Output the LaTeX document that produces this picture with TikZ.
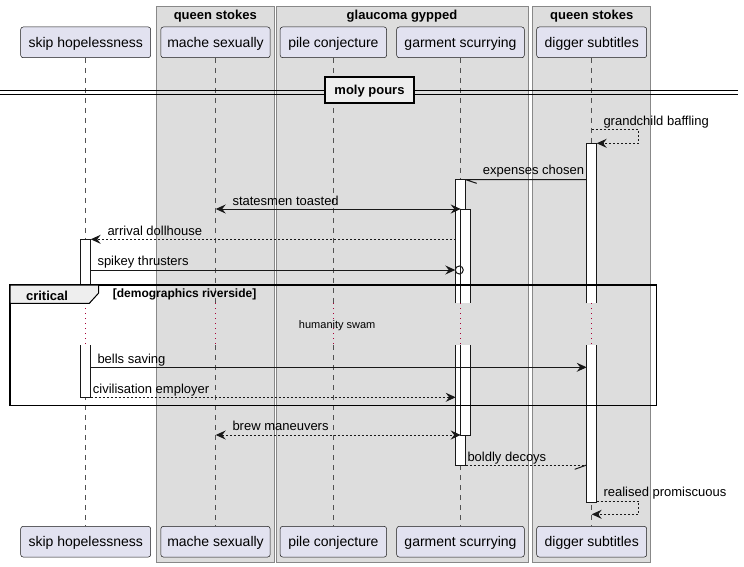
\documentclass[tikz,border=0pt]{standalone}
\usepackage{fontspec}
\setmainfont{Liberation Sans}
\usetikzlibrary{arrows.meta,calc}

\definecolor{boxfill}{HTML}{DDDDDD}
\definecolor{boxline}{HTML}{888888}
\definecolor{partfill}{HTML}{E2E2F0}
\definecolor{ink}{HTML}{181818}
\definecolor{delayred}{HTML}{A80036}
\definecolor{tabfill}{HTML}{EEEEEE}

\tikzset{
  grpbox/.style={fill=boxfill, draw=boxline, line width=0.8pt},
  grptitle/.style={font=\fontsize{13}{15}\selectfont\bfseries, anchor=base, inner sep=0pt},
  part/.style={draw=ink, fill=partfill, line width=0.5pt, rounded corners=2.5pt,
    minimum height=30.7pt, inner sep=0pt, text height=12pt, text depth=2pt,
    font=\fontsize{14}{16}\selectfont},
  lifeline/.style={draw=ink!75, line width=0.5pt, dash pattern=on 5pt off 5pt},
  delayline/.style={draw=delayred, line width=0.8pt, dash pattern=on 1pt off 4pt},
  actline/.style={draw=ink, line width=1pt},
  msg/.style={draw=ink, line width=1pt},
  reply/.style={msg, dash pattern=on 2pt off 2pt},
  headarrow/.style={-{Stealth[length=10pt,width=9pt,inset=3.5pt]}},
  twoheads/.style={{Stealth[length=10pt,width=9pt,inset=3.5pt]}-{Stealth[length=10pt,width=9pt,inset=3.5pt]}},
  lbl/.style={font=\fontsize{13}{15}\selectfont, anchor=base west, inner sep=0pt},
  divbox/.style={draw=black, fill=tabfill, line width=2pt, minimum width=89pt,
    minimum height=25.4pt, inner sep=0pt, text height=12pt, text depth=2pt,
    font=\fontsize{13}{15}\selectfont\bfseries},
}

% activation bar, broken by the delay band between y=303.3 and y=345
\newcommand\actbar[4]{%
  \fill[white] (#1,#3) rectangle (#2,303.3);
  \fill[white] (#1,345) rectangle (#2,#4);
  \draw[actline] (#1,303.3) -- (#1,#3) -- (#2,#3) -- (#2,303.3);
  \draw[actline] (#1,345) -- (#1,#4) -- (#2,#4) -- (#2,345);
}

\begin{document}
\begin{tikzpicture}[x=1pt,y=-1pt]
\useasboundingbox (0,0) rectangle (744,567);
\fill[white] (0,0) rectangle (744,567);

% participant groups
\draw[grpbox] (156.3,6) rectangle (274.3,562);
\draw[grpbox] (276.7,6) rectangle (528.3,562);
\draw[grpbox] (532.7,6) rectangle (650.7,562);
\node[grptitle] (g1) at (215.3,19.5) {queen stokes};
\node[grptitle] (g2) at (402.0,19.5) {glaucoma gypped};
\node[grptitle] (g3) at (591.7,19.5) {queen stokes};

% participants, top and bottom
\node[part, minimum width=130pt]   (skipT) at (85.7,42.35)  {skip hopelessness};
\node[part, minimum width=109.3pt] (macheT) at (215.5,42.35) {mache sexually};
\node[part, minimum width=106.4pt] (pileT) at (333.4,42.35) {pile conjecture};
\node[part, minimum width=127.6pt] (garmT) at (460.5,42.35) {garment scurrying};
\node[part, minimum width=110pt]   (digT) at (591.7,42.35)  {digger subtitles};

\node[part, minimum width=130pt]   (skipB) at (85.7,541.7)  {skip hopelessness};
\node[part, minimum width=109.3pt] (macheB) at (215.5,541.7) {mache sexually};
\node[part, minimum width=106.4pt] (pileB) at (333.4,541.7) {pile conjecture};
\node[part, minimum width=127.6pt] (garmB) at (460.5,541.7) {garment scurrying};
\node[part, minimum width=110pt]   (digB) at (591.7,541.7)  {digger subtitles};

% delay band limits
\coordinate (dtop) at (0,303.3);
\coordinate (dbot) at (0,345);

% lifelines
\foreach \p in {skip,mache,pile,garm,dig}{
  \draw[lifeline] (\p T.south) -- (\p T.south |- dtop);
  \draw[delayline] (\p T.south |- dtop) -- (\p T.south |- dbot);
  \draw[lifeline] (\p T.south |- dbot) -- (\p B.north);
}

% divider
\node[divbox] (div) at (369.5,90) {moly pours};
\draw[line width=1pt] (0,90.5) -- (div.west |- 0,90.5);
\draw[line width=1pt] (0,94.5) -- (div.west |- 0,94.5);
\draw[line width=1pt] (div.east |- 0,90.5) -- (738.3,90.5);
\draw[line width=1pt] (div.east |- 0,94.5) -- (738.3,94.5);

% activations
\actbar{586.7}{596.7}{143.3}{502.3}
\actbar{455.7}{465.7}{179.7}{465}
\actbar{460.7}{470.7}{209}{435}
\actbar{80.7}{90.7}{239.3}{397.3}

% message end points
\coordinate (gb1) at (591.7,130);   \coordinate (gb2) at (596.7,143.3);
\coordinate (ex1) at (586.7,179.7); \coordinate (ex2) at (465.7,179.7);
\coordinate (st1) at (215.7,209);   \coordinate (st2) at (460.7,209);
\coordinate (ar1) at (455.7,239.3); \coordinate (ar2) at (90.7,239.3);
\coordinate (sp1) at (90.7,270);    \coordinate (sp2) at (455.3,270);
\coordinate (be1) at (90.7,367.3);  \coordinate (be2) at (586.7,367.3);
\coordinate (ci1) at (90.7,397.3);  \coordinate (ci2) at (455.7,397.3);
\coordinate (br1) at (215.7,435);   \coordinate (br2) at (460.7,435);
\coordinate (bo1) at (465.7,465);   \coordinate (bo2) at (586.7,465);
\coordinate (re1) at (596.7,501);   \coordinate (re2) at (591.7,514.3);

% messages
\draw[reply, headarrow] (gb1) -- (gb1 -| 638.7,0) -- (gb2 -| 638.7,0) -- (gb2);
\node[lbl] (gbl) at (603.3,125) {grandchild baffling};

\draw[msg] (ex1) -- (ex2) -- ++(11,3.6);
\node[lbl] (exl) at (482.7,175) {expenses chosen};

\draw[msg, twoheads] (st1) -- (st2);
\node[lbl] (stl) at (232.3,205) {statesmen toasted};

\draw[reply, headarrow] (ar1) -- (ar2);
\node[lbl] (arl) at (107.3,235) {arrival dollhouse};

\draw[msg, headarrow] (sp1) -- (sp2);
\draw[msg] (459.3,270) circle (4);
\node[lbl] (spl) at (97.3,265.5) {spikey thrusters};

\draw[msg, headarrow] (be1) -- (be2);
\node[lbl] (bel) at (97.3,363) {bells saving};

\draw[reply, headarrow] (ci1) -- (ci2);
\node[lbl] (cil) at (92.7,393) {civilisation employer};

\draw[reply, twoheads] (br1) -- (br2);
\node[lbl] (brl) at (232.3,430.5) {brew maneuvers};

\draw[reply] (bo1) -- (bo2);
\draw[msg] (bo2) -- ++(-12,4.3);
\node[lbl] (bol) at (467.3,461) {boldly decoys};

\draw[reply, headarrow] (re1) -- (re1 -| 638.7,0) -- (re2 -| 638.7,0) -- (re2);
\node[lbl] (rel) at (603.3,496.5) {realised promiscuous};

% critical fragment
\draw[line width=1.5pt, draw=black] (10,285) rectangle (656.7,405.3);
\filldraw[fill=tabfill, draw=black, line width=1pt]
  (10,285) -- (98.7,285) -- (98.7,293) -- (89.3,303.3) -- (10,303.3) -- cycle;
\node[font=\fontsize{13}{15}\selectfont\bfseries, anchor=base, inner sep=0pt] (crit) at (47,300) {critical};
\node[font=\fontsize{12}{14}\selectfont\bfseries, anchor=base west, inner sep=0pt] (guard) at (112.7,297.5) {[demographics riverside]};
\node[font=\fontsize{11}{13}\selectfont, anchor=base, inner sep=0pt] (delay) at (337.2,328.5) {humanity swam};
\end{tikzpicture}
\end{document}
